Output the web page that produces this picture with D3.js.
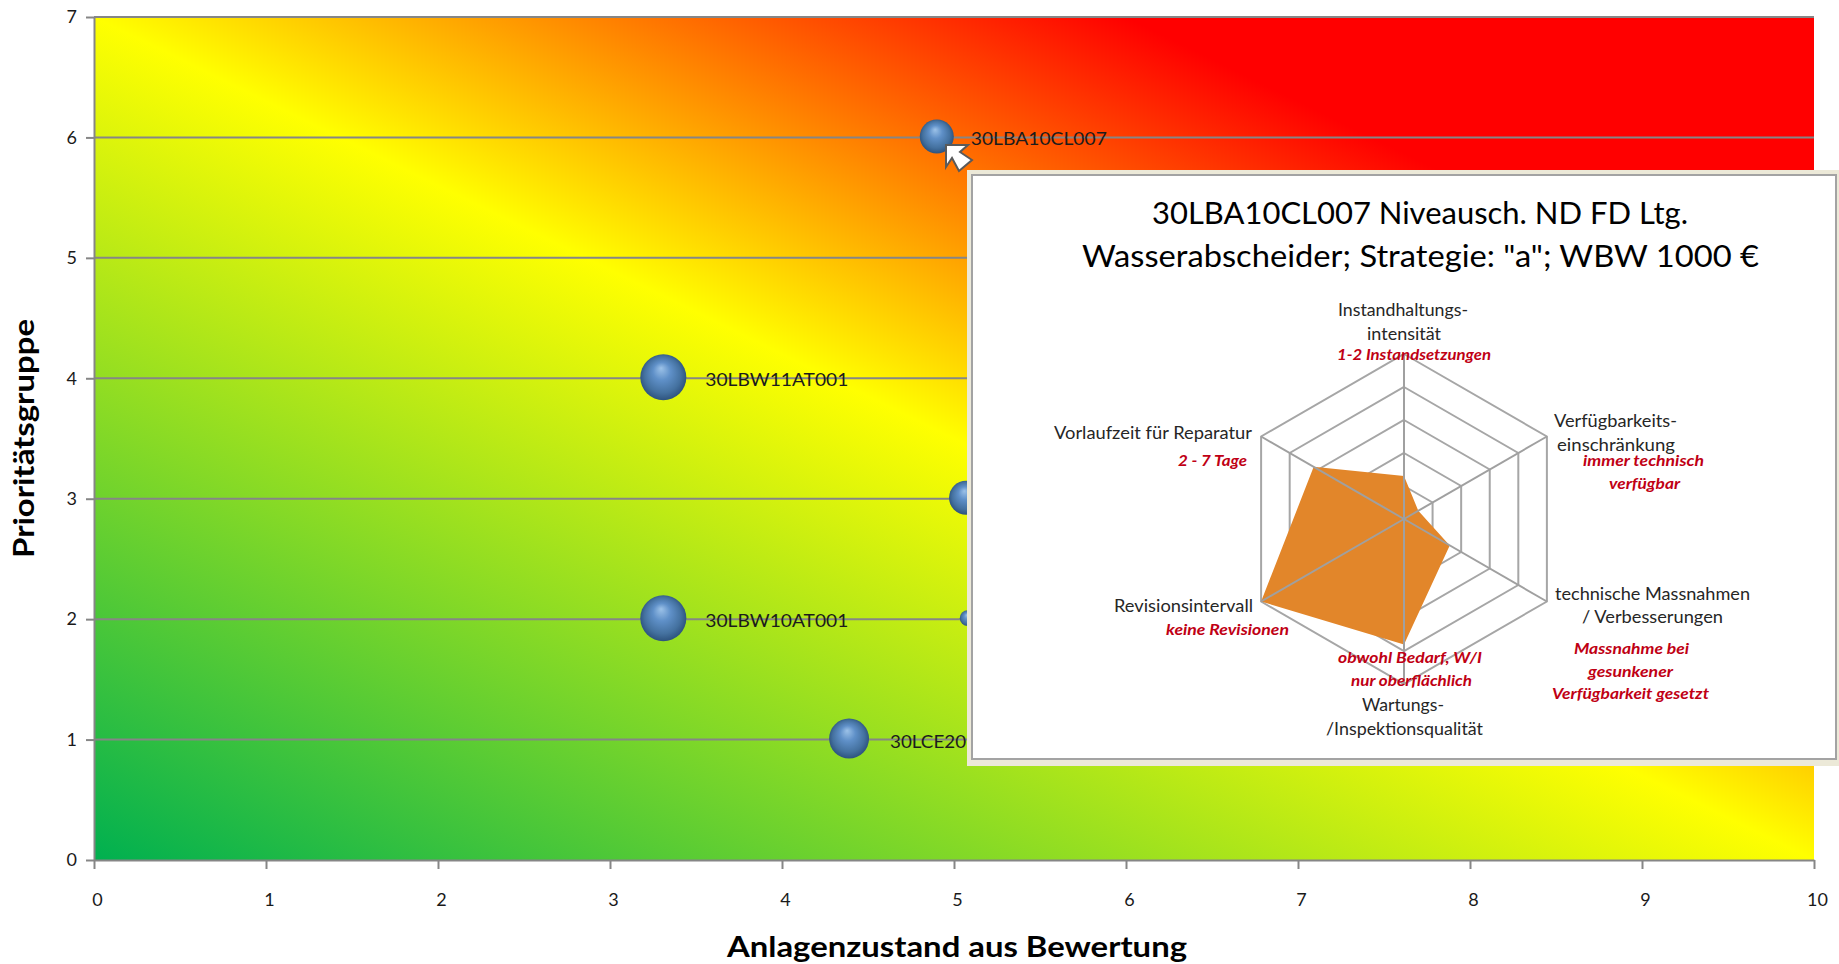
<!DOCTYPE html>
<html lang="de">
<head>
<meta charset="utf-8">
<title>Anlagenzustand und Prioritätsgruppe</title>
<script src="https://d3js.org/d3.v7.min.js"></script>
<style>
  html, body { margin: 0; padding: 0; background: #fff; }
  svg { display: block; }
  text { font-family: Lato, "Noto Sans", sans-serif; }
</style>
</head>
<body>
<svg id="chart" width="1839" height="964"></svg>
<script>
// Bubble series
const assetNames = ["30LBA10CL007", "30LBW11AT001", "30LBW10AT001", "30LCE20", "", ""];
const assetCondition = [4.9, 3.31, 3.31, 4.39, 5.07, 5.08];
const assetPriority = [6, 4, 2, 1, 3, 2];
const assetSize = [1000, 1830, 1830, 1380, 1000, 220];

// Axis ticks and titles
const conditionTicks = [0, 1, 2, 3, 4, 5, 6, 7, 8, 9, 10];
const priorityTicks = [0, 1, 2, 3, 4, 5, 6, 7];
const xTitle = "Anlagenzustand aus Bewertung";
const yTitle = "Prioritätsgruppe";

// Detail panel: radar for the selected asset
const panelTitle = ["30LBA10CL007 Niveausch. ND FD Ltg.", "Wasserabscheider; Strategie: \"a\"; WBW 1000 €"];
const radarScores = [1.3, 0.5, 1.6, 3.8, 5, 3.16];
const radarRings = [1, 2, 3, 4, 5];
const radarAxisText = [
  "Instandhaltungs-", "intensität",
  "Verfügbarkeits-", "einschränkung",
  "technische Massnahmen", "/ Verbesserungen",
  "Wartungs-", "/Inspektionsqualität",
  "Revisionsintervall",
  "Vorlaufzeit für Reparatur"
];
const radarNoteText = [
  "1-2 Instandsetzungen",
  "immer technisch", "verfügbar",
  "Massnahme bei", "gesunkener", "Verfügbarkeit gesetzt",
  "obwohl Bedarf, W/I", "nur oberflächlich",
  "keine Revisionen",
  "2 - 7 Tage"
];

// Tag label placement beside each bubble: [gap from the bubble edge, width]
const assetLabelPlacement = [[17, 136], [19, 143], [19, 143], [21, 76]];

// Text placement inside the panel, in the same order as the text lists: [left, baseline, width]
const axisTextPlacement = [
  [1338, 316, 130], [1367, 340, 74],
  [1554, 427, 123], [1557, 451, 118],
  [1555, 600, 195], [1582, 623, 141],
  [1362, 711, 82], [1326, 735, 157],
  [1114, 612, 139],
  [1054, 439, 198]
];
const noteTextPlacement = [
  [1337, 360, 154],
  [1583, 466, 121], [1609, 489, 71],
  [1574, 654, 115], [1588, 677, 85], [1552, 699, 157],
  [1338, 663, 144], [1351, 686, 121],
  [1166, 635, 123],
  [1178, 466, 69]
];

const svg = d3.select("#chart");
const plot = { left: 94, right: 1814, top: 17, bottom: 860 };

const x = d3.scaleLinear().domain([0, 10]).range([plot.left, plot.right]);
const y = d3.scaleLinear().domain([0, 7]).range([plot.bottom, plot.top]);
const bubbleRadius = d3.scaleSqrt().domain([0, 1830]).range([0, 23]);

const defs = svg.append("defs");

// Diagonal risk field: isolines run parallel to the top-left / bottom-right diagonal
const field = defs.append("linearGradient")
  .attr("id", "riskField")
  .attr("x1", 0).attr("y1", 1).attr("x2", 1).attr("y2", 0);
field.selectAll("stop")
  .data([[0, "#00b050"], [0.5, "#ffff00"], [0.8, "#ff0000"], [1, "#ff0000"]])
  .join("stop")
  .attr("offset", d => d[0])
  .attr("stop-color", d => d[1]);

const sphere = defs.append("radialGradient")
  .attr("id", "sphere")
  .attr("cx", 0.5).attr("cy", 0.5).attr("r", 0.55)
  .attr("fx", 0.45).attr("fy", 0.3);
sphere.selectAll("stop")
  .data([[0, "#9cc2e8"], [0.35, "#5f90c8"], [0.72, "#44719f"], [0.92, "#2f5580"], [1, "#4a5f78"]])
  .join("stop")
  .attr("offset", d => d[0])
  .attr("stop-color", d => d[1]);

svg.append("rect")
  .attr("x", plot.left).attr("y", plot.top)
  .attr("width", plot.right - plot.left)
  .attr("height", plot.bottom - plot.top)
  .attr("fill", "url(#riskField)");

// Axes and horizontal gridlines
const axisColor = "#868686";
const gridLayer = svg.append("g");
gridLayer.selectAll("line")
  .data(priorityTicks.filter(d => d > 0))
  .join("line")
  .attr("x1", plot.left).attr("x2", plot.right)
  .attr("y1", d => y(d)).attr("y2", d => y(d))
  .attr("stroke", axisColor).attr("stroke-width", 2);

const xAxis = svg.append("g")
  .attr("transform", `translate(0,${plot.bottom})`)
  .call(d3.axisBottom(x).tickValues(conditionTicks).tickFormat(d3.format("d")).tickSize(9).tickPadding(24).tickSizeOuter(0));
const yAxis = svg.append("g")
  .attr("transform", `translate(${plot.left},0)`)
  .call(d3.axisLeft(y).tickValues(priorityTicks).tickFormat(d3.format("d")).tickSize(8).tickPadding(9).tickSizeOuter(0));
[xAxis, yAxis].forEach(axis => {
  axis.selectAll("path, line").attr("stroke", axisColor).attr("stroke-width", 2);
  axis.selectAll("text")
    .style("font-family", "Lato, sans-serif")
    .style("font-size", "18px")
    .attr("fill", "#1a1a1a");
});
xAxis.selectAll("text").attr("dx", 3);

svg.append("text")
  .attr("x", 727).attr("y", 957)
  .attr("textLength", 460).attr("lengthAdjust", "spacingAndGlyphs")
  .attr("font-size", 28).attr("font-weight", 700).attr("fill", "#000")
  .text(xTitle);
svg.append("text")
  .attr("transform", "translate(34,558) rotate(-90)")
  .attr("textLength", 239).attr("lengthAdjust", "spacingAndGlyphs")
  .attr("font-size", 28).attr("font-weight", 700).attr("fill", "#000")
  .text(yTitle);

// Asset bubbles with their tag labels
const assets = assetNames.map((name, i) => ({
  name,
  cx: x(assetCondition[i]),
  cy: y(assetPriority[i]),
  r: bubbleRadius(assetSize[i]),
  place: assetLabelPlacement[i]
}));
svg.append("g").selectAll("circle")
  .data(assets)
  .join("circle")
  .attr("cx", d => d.cx).attr("cy", d => d.cy - 1).attr("r", d => d.r)
  .attr("fill", "url(#sphere)");
svg.append("g").selectAll("text")
  .data(assets.filter(d => d.name))
  .join("text")
  .attr("x", d => d.cx + d.r + d.place[0])
  .attr("y", d => d.cy + 8)
  .attr("textLength", d => d.place[1])
  .attr("lengthAdjust", "spacingAndGlyphs")
  .attr("font-size", 18)
  .attr("fill", "#1c1c1c")
  .text(d => d.name);

// Mouse pointer resting on the selected bubble
svg.append("path")
  .attr("d", "M946,145 L968,145 L960,152 L972,160 L959,171 L952,158 L946,167 Z")
  .attr("fill", "#fff").attr("stroke", "#5a5a5a").attr("stroke-width", 2)
  .attr("stroke-linejoin", "miter");

// Detail panel
svg.append("rect")
  .attr("x", 967).attr("y", 170).attr("width", 872).attr("height", 596)
  .attr("fill", "#ece9d8");
svg.append("rect")
  .attr("x", 972).attr("y", 175).attr("width", 864).attr("height", 584)
  .attr("fill", "#fff").attr("stroke", "#a3a3a3").attr("stroke-width", 2);

svg.append("g").selectAll("text")
  .data(panelTitle)
  .join("text")
  .attr("x", (d, i) => [1152, 1082][i])
  .attr("y", (d, i) => [224, 267][i])
  .attr("textLength", (d, i) => [536, 677][i])
  .attr("lengthAdjust", "spacingAndGlyphs")
  .attr("font-size", 30)
  .attr("fill", "#000")
  .text(d => d);

// Radar chart: rings below the filled area, spokes above it
const radarCenter = { x: 1404, y: 519 };
const radarRadius = d3.scaleLinear().domain([0, 5]).range([0, 165]);
const spokeAngle = d3.scaleLinear().domain([0, 6]).range([0, 2 * Math.PI]);
const spokeIndex = d3.range(6);
const radar = svg.append("g").attr("transform", `translate(${radarCenter.x},${radarCenter.y})`);
const radarLine = d3.lineRadial()
  .angle((d, i) => spokeAngle(i))
  .radius(d => radarRadius(d))
  .curve(d3.curveLinearClosed);

radar.append("g").selectAll("path")
  .data(radarRings)
  .join("path")
  .attr("d", ring => radarLine(spokeIndex.map(() => ring)))
  .attr("fill", "none").attr("stroke", "#a6a6a6").attr("stroke-width", 2);
radar.append("path")
  .attr("d", radarLine(radarScores))
  .attr("fill", "#e2862a");
radar.append("g").selectAll("line")
  .data(spokeIndex)
  .join("line")
  .attr("x2", i => radarRadius(5) * Math.sin(spokeAngle(i)))
  .attr("y2", i => -radarRadius(5) * Math.cos(spokeAngle(i)))
  .attr("stroke", "#a0a0a0").attr("stroke-width", 2);

svg.append("g").selectAll("text")
  .data(radarAxisText)
  .join("text")
  .attr("x", (d, i) => axisTextPlacement[i][0])
  .attr("y", (d, i) => axisTextPlacement[i][1])
  .attr("textLength", (d, i) => axisTextPlacement[i][2])
  .attr("lengthAdjust", "spacingAndGlyphs")
  .attr("font-size", 17)
  .attr("fill", "#262626")
  .text(d => d);

svg.append("g").selectAll("text")
  .data(radarNoteText)
  .join("text")
  .attr("x", (d, i) => noteTextPlacement[i][0])
  .attr("y", (d, i) => noteTextPlacement[i][1])
  .attr("textLength", (d, i) => noteTextPlacement[i][2])
  .attr("lengthAdjust", "spacingAndGlyphs")
  .attr("font-size", 16)
  .attr("font-style", "italic")
  .attr("font-weight", 700)
  .attr("fill", "#c00014")
  .text(d => d);
</script>
</body>
</html>
